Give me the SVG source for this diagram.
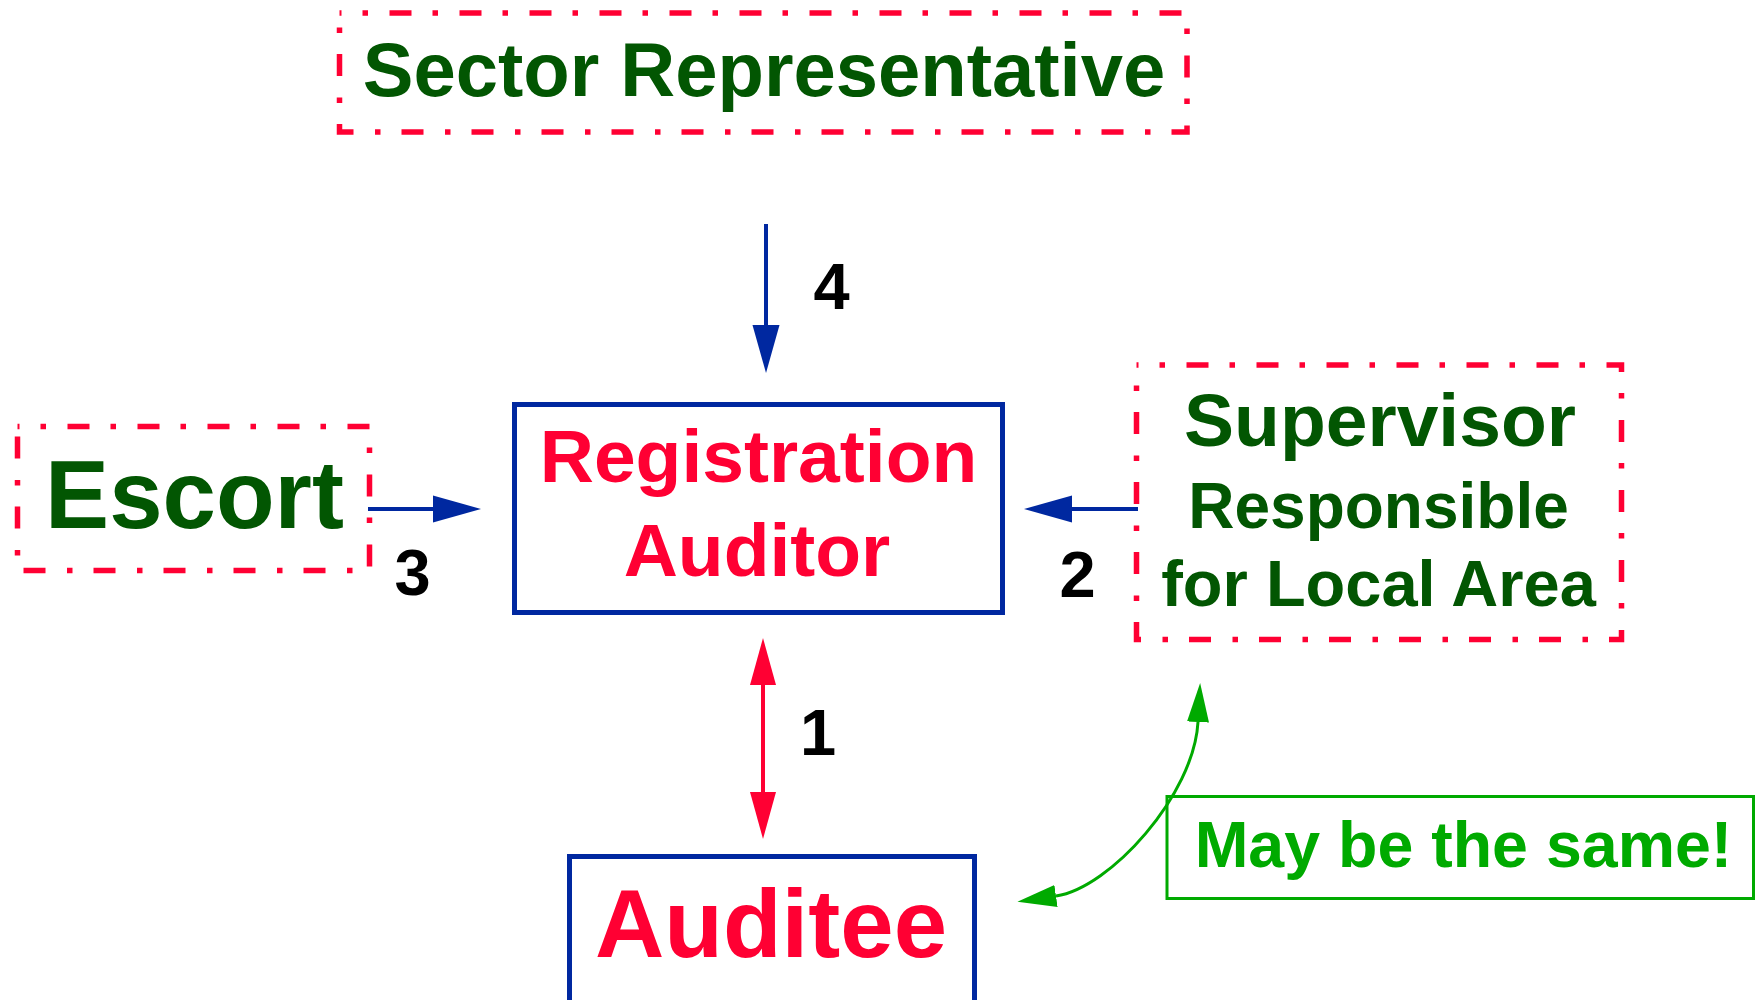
<svg xmlns="http://www.w3.org/2000/svg" width="1760" height="1000" viewBox="0 0 1760 1000">
  <style>
    text { font-family: "Liberation Sans", Arial, sans-serif; font-weight: bold; text-anchor: middle; }
    .dashbox { fill: none; stroke: #ff0033; stroke-width: 5.5; stroke-dasharray: 22 21 5.5 21.5; }
    .solidbox { fill: none; stroke: #0028a0; stroke-width: 5; }
    .note { fill: none; stroke: #00aa00; stroke-width: 3; }
    .dkgreen { fill: #025602; }
    .red { fill: #ff0033; }
    .num { fill: #000000; font-size: 65px; }
    .blue-line { fill: none; stroke: #0028a0; stroke-width: 4; }
    .red-line { fill: none; stroke: #ff0033; stroke-width: 4; }
    .green-line { fill: none; stroke: #00aa00; stroke-width: 3; }
  </style>
  <defs>
    <marker id="head-blue" markerUnits="userSpaceOnUse" viewBox="0 -14 48 28" markerWidth="48" markerHeight="28" refX="0" refY="0" orient="auto-start-reverse">
      <path d="M0,-13.5 L48,0 L0,13.5 z" fill="#0028a0"/>
    </marker>
    <marker id="head-red" markerUnits="userSpaceOnUse" viewBox="0 -14 48 28" markerWidth="48" markerHeight="28" refX="0" refY="0" orient="auto-start-reverse">
      <path d="M0,-13 L47,0 L0,13 z" fill="#ff0033"/>
    </marker>
    <marker id="head-green" markerUnits="userSpaceOnUse" viewBox="0 -12 40 24" markerWidth="40" markerHeight="24" refX="0" refY="0" orient="auto-start-reverse">
      <path d="M0,-11 L39,0 L0,11 z" fill="#00aa00"/>
    </marker>
  </defs>

  <!-- nodes -->
  <g id="sector-representative">
    <rect class="dashbox" x="339.5" y="13" width="847.5" height="119" stroke-dashoffset="20"/>
    <text class="dkgreen" x="764" y="96" font-size="76">Sector Representative</text>
  </g>

  <g id="escort">
    <rect class="dashbox" x="17.5" y="426.5" width="352" height="144" stroke-dashoffset="20"/>
    <text class="dkgreen" x="194.5" y="528" font-size="96">Escort</text>
  </g>

  <g id="registration-auditor">
    <rect class="solidbox" x="514.5" y="404.5" width="488" height="208"/>
    <text class="red" x="758.5" y="482" font-size="75">Registration</text>
    <text class="red" x="757" y="576" font-size="75">Auditor</text>
  </g>

  <g id="supervisor">
    <rect class="dashbox" x="1136.5" y="365" width="485" height="274.5" stroke-dashoffset="20"/>
    <text class="dkgreen" x="1380" y="446" font-size="75">Supervisor</text>
    <text class="dkgreen" x="1378.5" y="528" font-size="64">Responsible</text>
    <text class="dkgreen" x="1378.5" y="606" font-size="65">for Local Area</text>
  </g>

  <g id="auditee">
    <rect class="solidbox" x="569.5" y="856.5" width="405" height="160"/>
    <text class="red" x="771" y="957" font-size="96">Auditee</text>
  </g>

  <g id="same-note">
    <rect class="note" x="1167" y="796.5" width="586.5" height="102"/>
    <text x="1463.5" y="867" font-size="64.5" fill="#00aa00">May be the same!</text>
  </g>

  <!-- connectors -->
  <g id="connectors">
    <path class="blue-line" d="M766,224 L766,325" marker-end="url(#head-blue)"/>
    <path class="blue-line" d="M368,509 L433,509" marker-end="url(#head-blue)"/>
    <path class="blue-line" d="M1138,509 L1072,509" marker-end="url(#head-blue)"/>
    <path class="red-line" d="M763,685 L763,792" marker-start="url(#head-red)" marker-end="url(#head-red)"/>
    <path class="green-line" d="M1198,722 C1194,795 1110,888 1056,896" marker-start="url(#head-green)" marker-end="url(#head-green)"/>
  </g>

  <!-- connector numbers -->
  <g id="connector-labels">
    <text class="num" x="831.5" y="309">4</text>
    <text class="num" x="412.5" y="595">3</text>
    <text class="num" x="1077.5" y="597">2</text>
    <text class="num" x="818" y="755">1</text>
  </g>
</svg>
